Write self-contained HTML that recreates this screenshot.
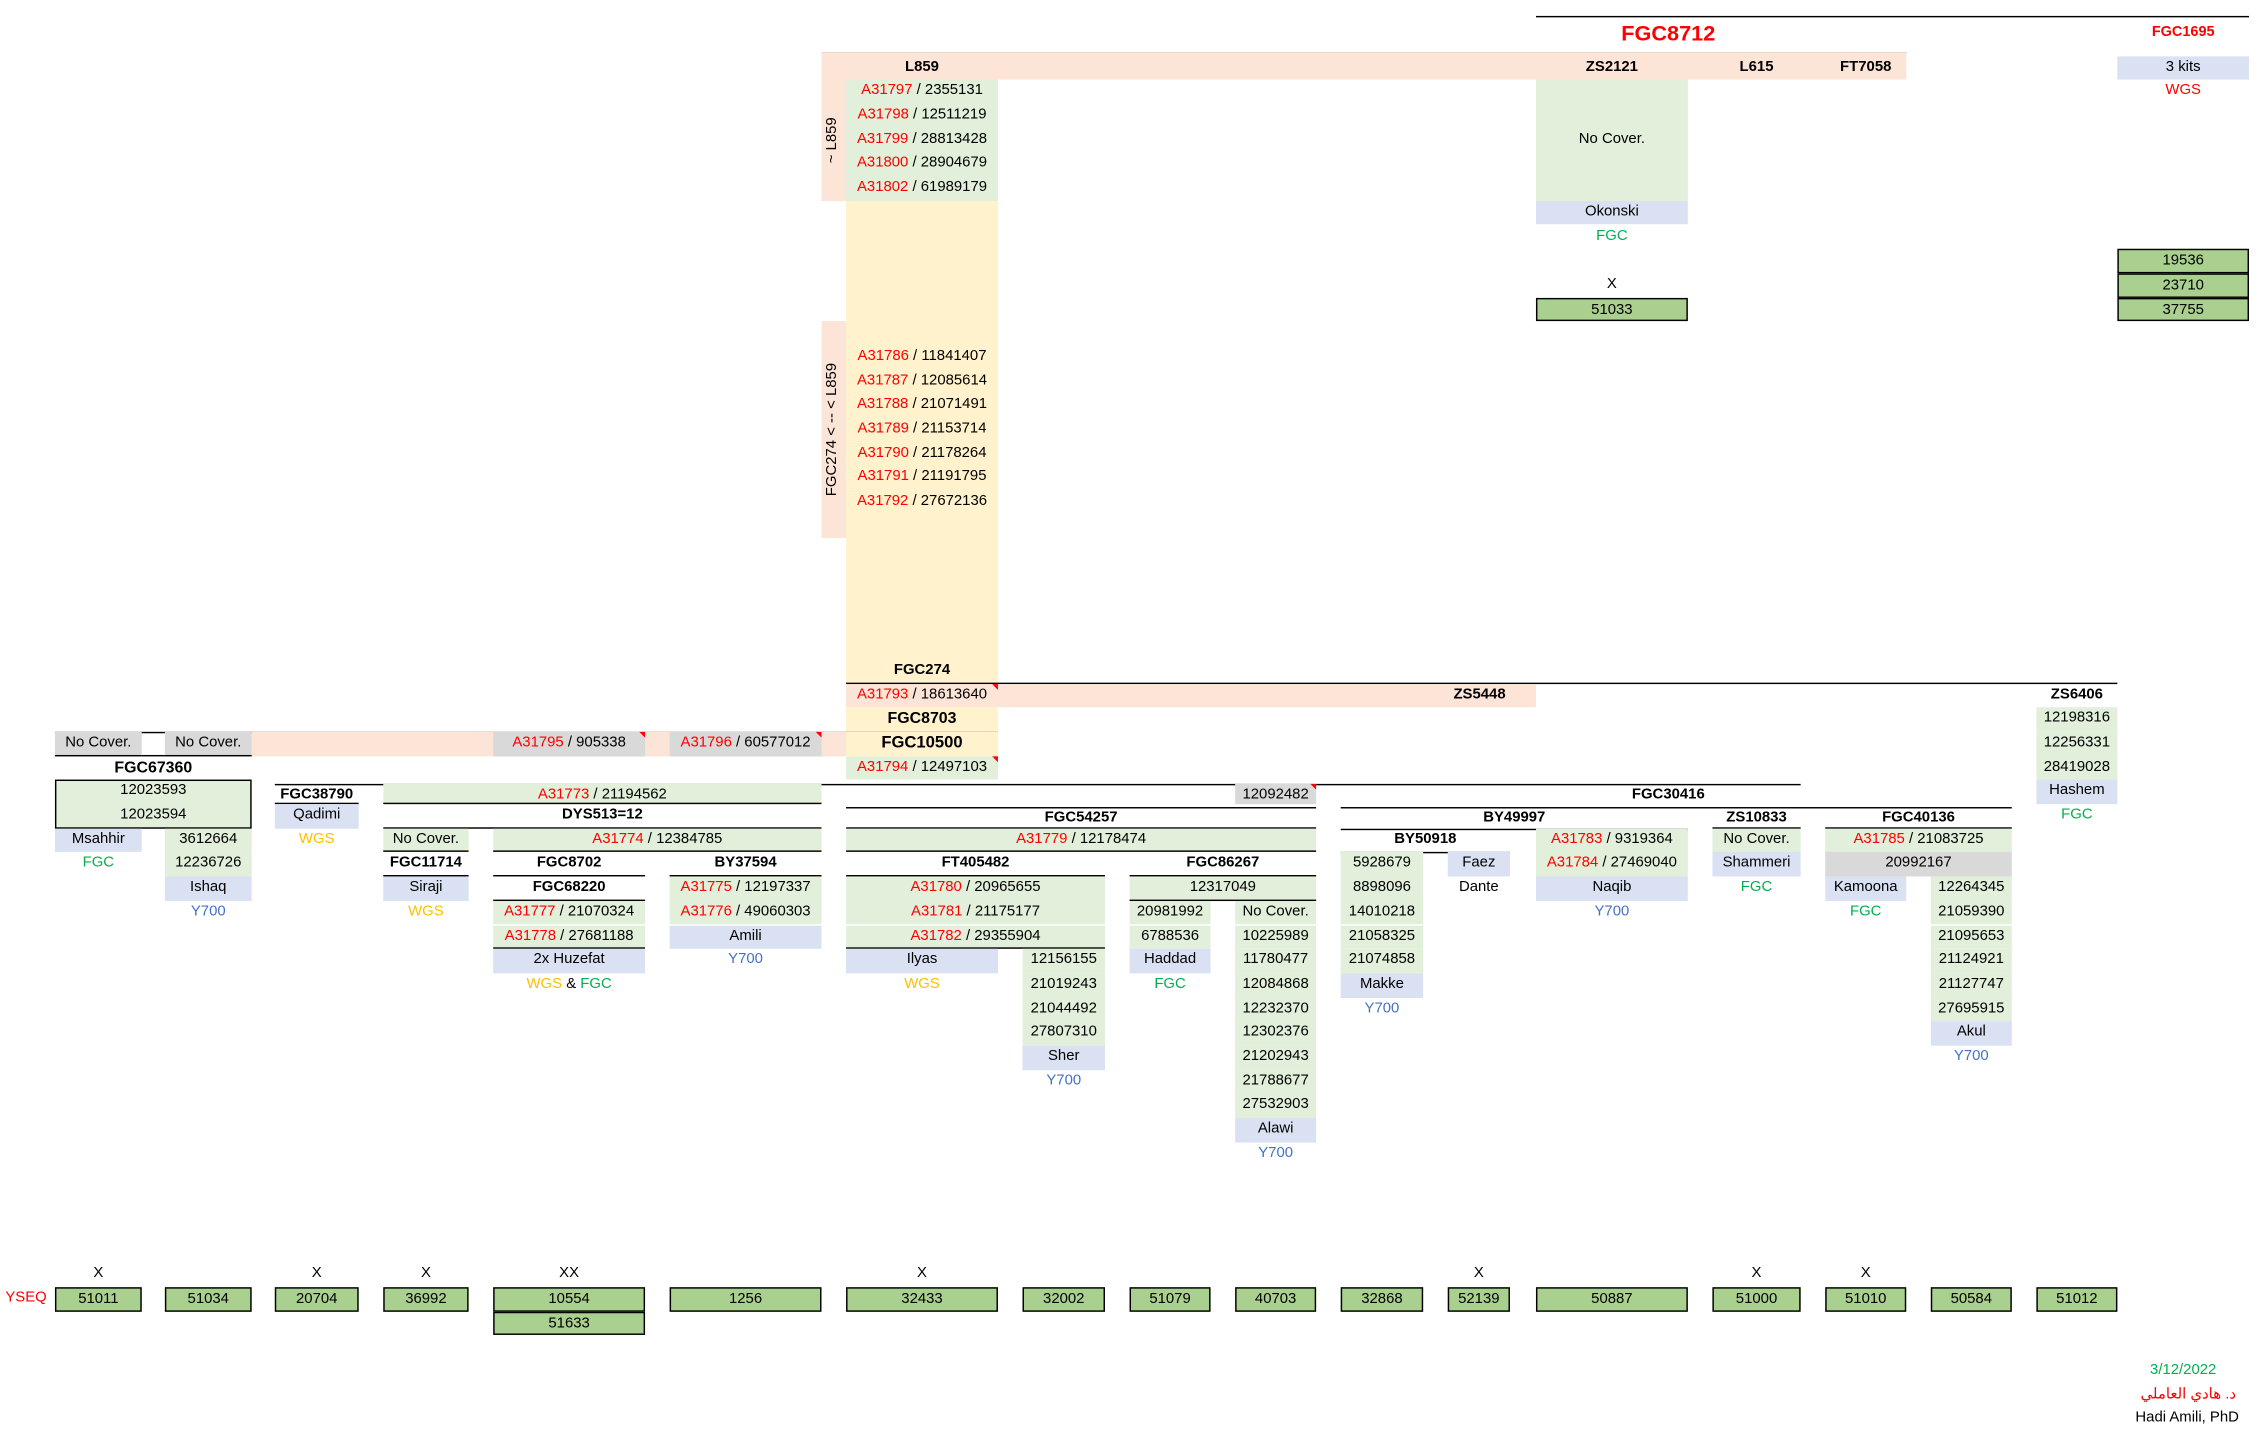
<!DOCTYPE html>
<html><head><meta charset="utf-8"><style>
body{margin:0;background:#fff;width:2268px;height:1442px;overflow:hidden}
#w{position:absolute;left:0;top:0;width:1560px;height:992px;transform:scale(1.4463);transform-origin:0 0;font-family:"Liberation Sans","Noto Sans CJK SC",sans-serif;font-size:10.3px;color:#000}
.c{position:absolute;height:16.69px;line-height:16.69px;text-align:center;white-space:nowrap;box-sizing:border-box}
.g{background:#E2EFDA}.p{background:#FCE4D6}.y{background:#FFF2CC}.b{background:#D9E1F2}.k{background:#D9D9D9}
.s{background:#A9D08E;border:1px solid #000}
.h{font-weight:bold;border-bottom:1px solid #000}
.u{border-bottom:1px solid #000}
.r{color:#f00}.fg{color:#00B050}.wg{color:#FFC000}.yb{color:#4472C4}
.ln{position:absolute;height:0;border-top:1px solid #000}
.tri{position:absolute;width:0;height:0;border-top:4px solid #f00;border-left:4px solid transparent}
.rot{position:absolute;transform:rotate(-90deg);white-space:nowrap;text-align:center}
</style></head><body><div id="w">
<div class="ln" style="left:1062px;top:11px;width:493px"></div>
<div class="c r" style="left:1062px;top:13px;width:183px;font-size:15px;font-weight:bold;height:22px;line-height:22px">FGC8712</div>
<div class="c r" style="left:1464px;top:15px;width:91px;font-weight:bold;font-size:10px">FGC1695</div>
<div class="ln" style="left:568px;top:35.5px;width:750px"></div>
<div class="p" style="position:absolute;left:568px;top:36px;width:750px;height:19.3px"></div>
<div class="c" style="left:585px;top:38.6px;width:105px;font-weight:bold">L859</div>
<div class="c" style="left:1062px;top:38.6px;width:105px;font-weight:bold">ZS2121</div>
<div class="c" style="left:1184px;top:38.6px;width:61px;font-weight:bold">L615</div>
<div class="c" style="left:1262px;top:38.6px;width:56px;font-weight:bold">FT7058</div>
<div class="c b" style="left:1464px;top:38.6px;width:91px">3 kits</div>
<div class="c r" style="left:1464px;top:55.3px;width:91px">WGS</div>
<div class="p" style="position:absolute;left:568px;top:55.3px;width:17px;height:83.5px"></div>
<div class="rot" style="left:546px;top:89px;width:60px;height:16px;line-height:16px">~ L859</div>
<div class="g" style="position:absolute;left:585px;top:55.3px;width:105px;height:83.5px"></div>
<div class="c" style="left:585px;top:55.3px;width:105px"><span class="r">A31797</span> / 2355131</div>
<div class="c" style="left:585px;top:72px;width:105px"><span class="r">A31798</span> / 12511219</div>
<div class="c" style="left:585px;top:88.7px;width:105px"><span class="r">A31799</span> / 28813428</div>
<div class="c" style="left:585px;top:105.4px;width:105px"><span class="r">A31800</span> / 28904679</div>
<div class="c" style="left:585px;top:122.1px;width:105px"><span class="r">A31802</span> / 61989179</div>
<div class="y" style="position:absolute;left:585px;top:138.8px;width:105px;height:333.8px"></div>
<div class="p" style="position:absolute;left:568px;top:222.2px;width:17px;height:150.3px"></div>
<div class="rot" style="left:516px;top:289px;width:120px;height:16px;line-height:16px">FGC274 &lt; -- &lt; L859</div>
<div class="c" style="left:585px;top:238.9px;width:105px"><span class="r">A31786</span> / 11841407</div>
<div class="c" style="left:585px;top:255.6px;width:105px"><span class="r">A31787</span> / 12085614</div>
<div class="c" style="left:585px;top:272.3px;width:105px"><span class="r">A31788</span> / 21071491</div>
<div class="c" style="left:585px;top:289px;width:105px"><span class="r">A31789</span> / 21153714</div>
<div class="c" style="left:585px;top:305.7px;width:105px"><span class="r">A31790</span> / 21178264</div>
<div class="c" style="left:585px;top:322.4px;width:105px"><span class="r">A31791</span> / 21191795</div>
<div class="c" style="left:585px;top:339.1px;width:105px"><span class="r">A31792</span> / 27672136</div>
<div class="c" style="left:585px;top:455.9px;width:105px;font-weight:bold">FGC274</div>
<div class="g" style="position:absolute;left:1062px;top:55.3px;width:105px;height:83.5px"></div>
<div class="c" style="left:1062px;top:88.7px;width:105px">No Cover.</div>
<div class="c b" style="left:1062px;top:138.8px;width:105px">Okonski</div>
<div class="c fg" style="left:1062px;top:155.5px;width:105px">FGC</div>
<div class="c" style="left:1062px;top:188.9px;width:105px">X</div>
<div class="c s" style="left:1062px;top:205.5px;width:105px">51033</div>
<div class="c s" style="left:1464px;top:172.2px;width:91px">19536</div>
<div class="c s" style="left:1464px;top:188.9px;width:91px">23710</div>
<div class="c s" style="left:1464px;top:205.5px;width:91px">37755</div>
<div class="ln" style="left:585px;top:471.6px;width:879px"></div>
<div class="p" style="position:absolute;left:585px;top:472.6px;width:477px;height:16.7px"></div>
<div class="c" style="left:585px;top:472.6px;width:105px"><span class="r">A31793</span> / 18613640</div>
<div class="tri" style="left:686px;top:472.6px"></div>
<div class="c" style="left:990px;top:472.6px;width:66px;font-weight:bold">ZS5448</div>
<div class="c" style="left:1408px;top:472.6px;width:56px;font-weight:bold">ZS6406</div>
<div class="c y" style="left:585px;top:489.3px;width:105px;font-weight:bold;font-size:11px">FGC8703</div>
<div class="c g" style="left:1408px;top:489.3px;width:56px">12198316</div>
<div class="ln" style="left:38px;top:505.5px;width:652px"></div>
<div class="p" style="position:absolute;left:174px;top:506px;width:411px;height:16.7px"></div>
<div class="c k" style="left:38px;top:506px;width:60px;border-bottom:1px solid #000">No Cover.</div>
<div class="c k" style="left:114px;top:506px;width:60px;border-bottom:1px solid #000">No Cover.</div>
<div class="ln" style="left:98px;top:522px;width:16px"></div>
<div class="c k" style="left:341px;top:506px;width:105px"><span class="r">A31795</span> / 905338</div>
<div class="tri" style="left:442px;top:506px"></div>
<div class="c k" style="left:463px;top:506px;width:105px"><span class="r">A31796</span> / 60577012</div>
<div class="tri" style="left:564px;top:506px"></div>
<div class="c y" style="left:585px;top:506px;width:105px;font-weight:bold;font-size:11.5px">FGC10500</div>
<div class="c g" style="left:1408px;top:506px;width:56px">12256331</div>
<div class="c" style="left:38px;top:522.7px;width:136px;font-weight:bold;font-size:11px">FGC67360</div>
<div class="c g" style="left:585px;top:522.7px;width:105px"><span class="r">A31794</span> / 12497103</div>
<div class="tri" style="left:686px;top:522.7px"></div>
<div class="c g" style="left:1408px;top:522.7px;width:56px">28419028</div>
<div style="position:absolute;left:38px;top:539.4px;width:136px;height:33.4px;border:1px solid #000;box-sizing:border-box;background:#E2EFDA"></div>
<div class="c" style="left:38px;top:539.4px;width:136px">12023593</div>
<div class="c" style="left:38px;top:556.1px;width:136px">12023594</div>
<div class="ln" style="left:190px;top:541.5px;width:1055px"></div>
<div class="c h" style="left:190px;top:542px;width:58px;height:14.1px;line-height:15px">FGC38790</div>
<div class="c g u" style="left:265px;top:542px;width:303px;height:14.1px;line-height:15px"><span class="r">A31773</span> / 21194562</div>
<div class="c k" style="left:854px;top:542px;width:56px;height:14.1px;line-height:15px">12092482</div>
<div class="tri" style="left:906px;top:542px"></div>
<div class="c" style="left:1062px;top:542px;width:183px;font-weight:bold;height:14.1px;line-height:15px">FGC30416</div>
<div class="c b" style="left:1408px;top:539.4px;width:56px">Hashem</div>
<div class="ln" style="left:585px;top:557.5px;width:325px"></div>
<div class="ln" style="left:927px;top:557.5px;width:464px"></div>
<div class="c b" style="left:190px;top:556.1px;width:58px">Qadimi</div>
<div class="c h" style="left:265px;top:556.1px;width:303px">DYS513=12</div>
<div class="c h" style="left:585px;top:558px;width:325px;height:14.8px;line-height:15px">FGC54257</div>
<div class="c" style="left:927px;top:558px;width:240px;font-weight:bold;height:14.8px;line-height:15px">BY49997</div>
<div class="c h" style="left:1184px;top:558px;width:61px;height:14.8px;line-height:15px">ZS10833</div>
<div class="c h" style="left:1262px;top:558px;width:129px;height:14.8px;line-height:15px">FGC40136</div>
<div class="c fg" style="left:1408px;top:556.1px;width:56px">FGC</div>
<div class="c b" style="left:38px;top:572.8px;width:60px">Msahhir</div>
<div class="c g" style="left:114px;top:572.8px;width:60px">3612664</div>
<div class="c wg" style="left:190px;top:572.8px;width:58px">WGS</div>
<div class="c g u" style="left:265px;top:572.8px;width:59px">No Cover.</div>
<div class="c g u" style="left:341px;top:572.8px;width:227px"><span class="r">A31774</span> / 12384785</div>
<div class="c g u" style="left:585px;top:572.8px;width:325px"><span class="r">A31779</span> / 12178474</div>
<div class="ln" style="left:927px;top:573px;width:240px"></div>
<div class="c h" style="left:927px;top:573.3px;width:117px">BY50918</div>
<div class="c g" style="left:1062px;top:573.3px;width:105px"><span class="r">A31783</span> / 9319364</div>
<div class="c g" style="left:1184px;top:573.3px;width:61px">No Cover.</div>
<div class="c g" style="left:1262px;top:573.3px;width:129px"><span class="r">A31785</span> / 21083725</div>
<div class="c fg" style="left:38px;top:589.4px;width:60px">FGC</div>
<div class="c g" style="left:114px;top:589.4px;width:60px">12236726</div>
<div class="c h" style="left:265px;top:589.4px;width:59px">FGC11714</div>
<div class="c h" style="left:341px;top:589.4px;width:105px">FGC8702</div>
<div class="c h" style="left:463px;top:589.4px;width:105px">BY37594</div>
<div class="c h" style="left:585px;top:589.4px;width:179px">FT405482</div>
<div class="c h" style="left:781px;top:589.4px;width:129px">FGC86267</div>
<div class="c g" style="left:927px;top:589.4px;width:57px">5928679</div>
<div class="c b" style="left:1001px;top:589.4px;width:43px">Faez</div>
<div class="c g" style="left:1062px;top:589.4px;width:105px"><span class="r">A31784</span> / 27469040</div>
<div class="c b" style="left:1184px;top:589.4px;width:61px">Shammeri</div>
<div class="c k" style="left:1262px;top:589.4px;width:129px">20992167</div>
<div class="c b" style="left:114px;top:606.1px;width:60px">Ishaq</div>
<div class="c b" style="left:265px;top:606.1px;width:59px">Siraji</div>
<div class="c h" style="left:341px;top:606.1px;width:105px">FGC68220</div>
<div class="c g" style="left:463px;top:606.1px;width:105px"><span class="r">A31775</span> / 12197337</div>
<div class="c g" style="left:585px;top:606.1px;width:179px"><span class="r">A31780</span> / 20965655</div>
<div class="c g u" style="left:781px;top:606.1px;width:129px">12317049</div>
<div class="c g" style="left:927px;top:606.1px;width:57px">8898096</div>
<div class="c" style="left:1001px;top:606.1px;width:43px">Dante</div>
<div class="c b" style="left:1062px;top:606.1px;width:105px">Naqib</div>
<div class="c fg" style="left:1184px;top:606.1px;width:61px">FGC</div>
<div class="c b" style="left:1262px;top:606.1px;width:56px">Kamoona</div>
<div class="c g" style="left:1335px;top:606.1px;width:56px">12264345</div>
<div class="c yb" style="left:114px;top:622.8px;width:60px">Y700</div>
<div class="c wg" style="left:265px;top:622.8px;width:59px">WGS</div>
<div class="c g" style="left:341px;top:622.8px;width:105px"><span class="r">A31777</span> / 21070324</div>
<div class="c g" style="left:463px;top:622.8px;width:105px"><span class="r">A31776</span> / 49060303</div>
<div class="c g" style="left:585px;top:622.8px;width:179px"><span class="r">A31781</span> / 21175177</div>
<div class="c g" style="left:781px;top:622.8px;width:56px">20981992</div>
<div class="c g" style="left:854px;top:622.8px;width:56px">No Cover.</div>
<div class="c g" style="left:927px;top:622.8px;width:57px">14010218</div>
<div class="c yb" style="left:1062px;top:622.8px;width:105px">Y700</div>
<div class="c fg" style="left:1262px;top:622.8px;width:56px">FGC</div>
<div class="c g" style="left:1335px;top:622.8px;width:56px">21059390</div>
<div class="c g u" style="left:341px;top:639.5px;width:105px"><span class="r">A31778</span> / 27681188</div>
<div class="c b" style="left:463px;top:639.5px;width:105px">Amili</div>
<div class="c g u" style="left:585px;top:639.5px;width:179px"><span class="r">A31782</span> / 29355904</div>
<div class="c g" style="left:781px;top:639.5px;width:56px">6788536</div>
<div class="c g" style="left:854px;top:639.5px;width:56px">10225989</div>
<div class="c g" style="left:927px;top:639.5px;width:57px">21058325</div>
<div class="c g" style="left:1335px;top:639.5px;width:56px">21095653</div>
<div class="c b" style="left:341px;top:656.2px;width:105px">2x Huzefat</div>
<div class="c yb" style="left:463px;top:656.2px;width:105px">Y700</div>
<div class="c b" style="left:585px;top:656.2px;width:105px">Ilyas</div>
<div class="c g" style="left:707px;top:656.2px;width:57px">12156155</div>
<div class="c b" style="left:781px;top:656.2px;width:56px">Haddad</div>
<div class="c g" style="left:854px;top:656.2px;width:56px">11780477</div>
<div class="c g" style="left:927px;top:656.2px;width:57px">21074858</div>
<div class="c g" style="left:1335px;top:656.2px;width:56px">21124921</div>
<div class="c" style="left:341px;top:672.9px;width:105px"><span class="wg">WGS</span> &amp; <span class="fg">FGC</span></div>
<div class="c wg" style="left:585px;top:672.9px;width:105px">WGS</div>
<div class="c g" style="left:707px;top:672.9px;width:57px">21019243</div>
<div class="c fg" style="left:781px;top:672.9px;width:56px">FGC</div>
<div class="c g" style="left:854px;top:672.9px;width:56px">12084868</div>
<div class="c b" style="left:927px;top:672.9px;width:57px">Makke</div>
<div class="c g" style="left:1335px;top:672.9px;width:56px">21127747</div>
<div class="c g" style="left:707px;top:689.6px;width:57px">21044492</div>
<div class="c g" style="left:854px;top:689.6px;width:56px">12232370</div>
<div class="c yb" style="left:927px;top:689.6px;width:57px">Y700</div>
<div class="c g" style="left:1335px;top:689.6px;width:56px">27695915</div>
<div class="c g" style="left:707px;top:706.3px;width:57px">27807310</div>
<div class="c g" style="left:854px;top:706.3px;width:56px">12302376</div>
<div class="c b" style="left:1335px;top:706.3px;width:56px">Akul</div>
<div class="c b" style="left:707px;top:723px;width:57px">Sher</div>
<div class="c g" style="left:854px;top:723px;width:56px">21202943</div>
<div class="c yb" style="left:1335px;top:723px;width:56px">Y700</div>
<div class="c yb" style="left:707px;top:739.7px;width:57px">Y700</div>
<div class="c g" style="left:854px;top:739.7px;width:56px">21788677</div>
<div class="c g" style="left:854px;top:756.4px;width:56px">27532903</div>
<div class="c b" style="left:854px;top:773px;width:56px">Alawi</div>
<div class="c yb" style="left:854px;top:789.7px;width:56px">Y700</div>
<div class="c" style="left:38px;top:873.2px;width:60px">X</div>
<div class="c" style="left:190px;top:873.2px;width:58px">X</div>
<div class="c" style="left:265px;top:873.2px;width:59px">X</div>
<div class="c" style="left:341px;top:873.2px;width:105px">XX</div>
<div class="c" style="left:585px;top:873.2px;width:105px">X</div>
<div class="c" style="left:1001px;top:873.2px;width:43px">X</div>
<div class="c" style="left:1184px;top:873.2px;width:61px">X</div>
<div class="c" style="left:1262px;top:873.2px;width:56px">X</div>
<div class="c r" style="left:0px;top:889.9px;width:36px">YSEQ</div>
<div class="c s" style="left:38px;top:889.9px;width:60px">51011</div>
<div class="c s" style="left:114px;top:889.9px;width:60px">51034</div>
<div class="c s" style="left:190px;top:889.9px;width:58px">20704</div>
<div class="c s" style="left:265px;top:889.9px;width:59px">36992</div>
<div class="c s" style="left:341px;top:889.9px;width:105px">10554</div>
<div class="c s" style="left:341px;top:906.6px;width:105px">51633</div>
<div class="c s" style="left:463px;top:889.9px;width:105px">1256</div>
<div class="c s" style="left:585px;top:889.9px;width:105px">32433</div>
<div class="c s" style="left:707px;top:889.9px;width:57px">32002</div>
<div class="c s" style="left:781px;top:889.9px;width:56px">51079</div>
<div class="c s" style="left:854px;top:889.9px;width:56px">40703</div>
<div class="c s" style="left:927px;top:889.9px;width:57px">32868</div>
<div class="c s" style="left:1001px;top:889.9px;width:43px">52139</div>
<div class="c s" style="left:1062px;top:889.9px;width:105px">50887</div>
<div class="c s" style="left:1184px;top:889.9px;width:61px">51000</div>
<div class="c s" style="left:1262px;top:889.9px;width:56px">51010</div>
<div class="c s" style="left:1335px;top:889.9px;width:56px">50584</div>
<div class="c s" style="left:1408px;top:889.9px;width:56px">51012</div>
<div class="c fg" style="left:1464px;top:940px;width:91px">3/12/2022</div>
<div class="c r" style="left:1440px;top:956.6px;width:106px;text-align:right">د. هادي العاملي</div>
<div class="c" style="left:1440px;top:973.3px;width:108px;text-align:right">Hadi Amili, PhD</div>
</div></body></html>
